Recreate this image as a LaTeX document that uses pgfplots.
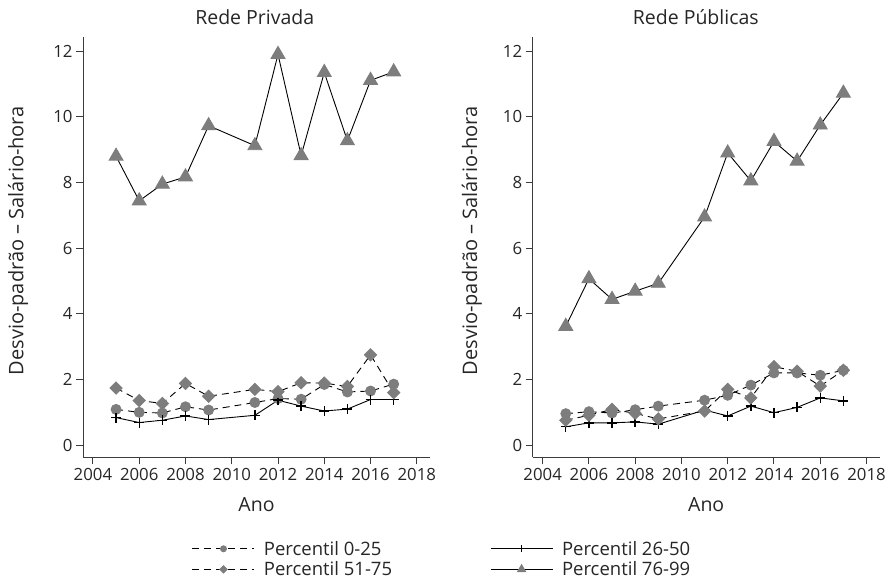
\documentclass[border=0pt]{standalone}
\usepackage{fontspec}
\setmainfont{Open Sans}
\usepackage{pgfplots}
\pgfplotsset{compat=1.18}
\definecolor{mgray}{RGB}{125,125,125}
\definecolor{axgray}{RGB}{60,60,60}

\pgfplotsset{
  pA/.style={black, line width=0.9pt, dash pattern=on 7pt off 5pt, mark=*, mark size=5pt,
    mark options={solid, fill=mgray, draw=mgray},
    legend image post style={mark size=3pt}},
  pB/.style={black, line width=0.9pt, solid, mark=+, mark size=5pt,
    mark options={solid, line width=1.4pt},
    legend image post style={mark size=3.5pt, every mark/.append style={line width=1pt}}},
  pC/.style={black, line width=0.9pt, dash pattern=on 7pt off 5pt, mark=square*, mark size=4.3pt,
    mark options={solid, rotate=45, fill=mgray, draw=mgray},
    legend image post style={mark size=2.6pt}},
  pD/.style={black, line width=0.9pt, solid, mark=triangle*, mark size=8pt,
    mark options={solid, fill=mgray, draw=mgray},
    legend image post style={mark size=4.6pt}},
  common/.style={
    scale only axis, width=347pt, height=420pt,
    xmin=2003.57, xmax=2018.57, ymin=-0.36, ymax=12.43,
    axis x line*=bottom, axis y line*=left,
    axis line style={axgray, line width=1pt},
    tick style={axgray, line width=1pt},
    tick align=outside, major tick length=7pt,
    xtick={2004,2006,...,2018}, ytick={0,2,...,12},
    /pgf/number format/1000 sep={},
    /pgf/number format/assume math mode=true,
    tick label style={font=\fontsize{16.8}{18}\selectfont, text=black!85},
    xticklabel style={yshift=-1pt},
    title style={font=\fontsize{19.5}{22}\selectfont, text=black!85, anchor=base},
    xlabel={Ano},
    ylabel={Desvio-padrão – Salário-hora},
    every axis x label/.style={at={(axis description cs:0.5,-0.114)}, anchor=center,
      font=\fontsize{19.5}{22}\selectfont, text=black!85},
    clip=false,
    legend image code/.code={\draw[mark repeat=2,mark phase=2] plot coordinates {(0pt,0pt)(31pt,0pt)(62pt,0pt)};},
  },
}

\begin{document}
\begin{tikzpicture}
\useasboundingbox (0pt,0pt) rectangle (888pt,-584pt);

\begin{axis}[common,
  at={(83pt,-457pt)}, anchor=south west,
  title={Rede Privada},
  title style={at={(axis description cs:0.495,1.015)}},
  every axis y label/.style={at={(axis description cs:-0.187,0.515)}, rotate=90, anchor=center,
    font=\fontsize{20}{22}\selectfont, text=black!85},
  legend columns=2,
  legend cell align=left,
  legend style={at={(axis description cs:0.305,-0.19)}, anchor=north west, draw=none, fill=none,
    font=\fontsize{18.5}{21}\selectfont, text=black!85, row sep=1pt,
    /tikz/every odd column/.append style={column sep=7pt},
    /tikz/every even column/.append style={column sep=96pt}},
]
\addplot[pA] coordinates {(2005,1.09)(2006,1.00)(2007,0.98)(2008,1.17)(2009,1.07)(2011,1.30)(2012,1.42)(2013,1.40)(2014,1.85)(2015,1.62)(2016,1.65)(2017,1.86)};
\addlegendentry{Percentil 0-25}
\addplot[pB] coordinates {(2005,0.84)(2006,0.69)(2007,0.76)(2008,0.89)(2009,0.78)(2011,0.91)(2012,1.37)(2013,1.19)(2014,1.04)(2015,1.10)(2016,1.39)(2017,1.39)};
\addlegendentry{Percentil 26-50}
\addplot[pC] coordinates {(2005,1.74)(2006,1.36)(2007,1.27)(2008,1.88)(2009,1.49)(2011,1.70)(2012,1.63)(2013,1.90)(2014,1.89)(2015,1.79)(2016,2.75)(2017,1.60)};
\addlegendentry{Percentil 51-75}
\addplot[pD] coordinates {(2005,8.80)(2006,7.44)(2007,7.95)(2008,8.17)(2009,9.73)(2011,9.12)(2012,11.90)(2013,8.82)(2014,11.35)(2015,9.27)(2016,11.11)(2017,11.37)};
\addlegendentry{Percentil 76-99}
\end{axis}

\begin{axis}[common,
  at={(532.7pt,-457pt)}, anchor=south west,
  title={Rede Públicas},
  title style={at={(axis description cs:0.47,1.015)}},
  every axis y label/.style={at={(axis description cs:-0.175,0.515)}, rotate=90, anchor=center,
    font=\fontsize{20}{22}\selectfont, text=black!85},
]
\addplot[pA] coordinates {(2005,0.96)(2006,1.02)(2007,0.98)(2008,1.08)(2009,1.19)(2011,1.37)(2012,1.52)(2013,1.83)(2014,2.20)(2015,2.20)(2016,2.13)(2017,2.28)};
\addplot[pB] coordinates {(2005,0.56)(2006,0.68)(2007,0.68)(2008,0.71)(2009,0.64)(2011,1.07)(2012,0.89)(2013,1.19)(2014,0.99)(2015,1.15)(2016,1.44)(2017,1.35)};
\addplot[pC] coordinates {(2005,0.76)(2006,0.91)(2007,1.09)(2008,0.97)(2009,0.80)(2011,1.04)(2012,1.70)(2013,1.44)(2014,2.39)(2015,2.25)(2016,1.80)(2017,2.28)};
\addplot[pD] coordinates {(2005,3.62)(2006,5.07)(2007,4.44)(2008,4.69)(2009,4.93)(2011,6.95)(2012,8.90)(2013,8.05)(2014,9.25)(2015,8.65)(2016,9.75)(2017,10.72)};
\end{axis}
\end{tikzpicture}
\end{document}
